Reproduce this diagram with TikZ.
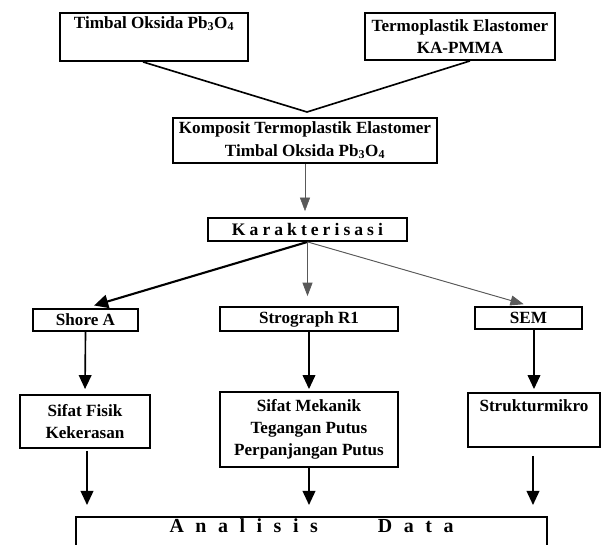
\documentclass[tikz,border=0pt]{standalone}
\usepackage{fontspec}
\setmainfont{Liberation Serif}
\newfontfamily\jarang[LetterSpace=23]{Liberation Serif}
\newfontfamily\lebar[LetterSpace=58]{Liberation Serif}
\usetikzlibrary{arrows.meta}
\begin{document}
\begin{tikzpicture}[x=0.03cm,y=-0.03cm,
  kotak/.style={rectangle,draw,line width=1.6pt,inner sep=1pt,align=center,
    font=\fontsize{14.6}{19}\selectfont\bfseries},
  panah/.style={line width=1.4pt,-{Triangle[width=0.38cm,length=0.42cm]}},
  panahabu/.style={line width=0.6pt,draw=gray!70!black,-{Triangle[width=0.3cm,length=0.4cm]},fill=gray!70!black}]
\useasboundingbox (0,0) rectangle (602,545);
\node at (154,37) [kotak,minimum width=5.64cm,minimum height=1.44cm] (timbal) {Timbal Oksida Pb\textsubscript{3}O\textsubscript{4}\\ \strut};
\node at (460,36.5) [kotak,minimum width=5.7cm,minimum height=1.41cm] (termo) {Termoplastik Elastomer\\KA-PMMA};
\coordinate (v) at (307,112);
\node at (305,140.5) [kotak,minimum width=7.92cm,minimum height=1.35cm] (komposit) {Komposit Termoplastik Elastomer\\Timbal Oksida Pb\textsubscript{3}O\textsubscript{4}};
\node at (307.5,229.5) [kotak,minimum width=5.97cm,minimum height=0.69cm,font=\fontsize{15}{17}\jarang\bfseries] (karakter) {Karakterisasi};
%
\node at (85.5,320) [kotak,minimum width=3.15cm,minimum height=0.66cm] (shore) {Shore A};
\node at (309,319) [kotak,minimum width=5.34cm,minimum height=0.72cm] (strograph) {Strograph R1};
\node at (528.5,318) [kotak,minimum width=3.21cm,minimum height=0.66cm] (sem) {SEM};
%
\node at (85,421.5) [kotak,minimum width=3.9cm,minimum height=1.59cm] (fisik) {Sifat Fisik\\Kekerasan};
\node at (309,429.5) [kotak,minimum width=5.34cm,minimum height=2.25cm] (mekanik) {Sifat Mekanik\\Tegangan Putus\\Perpanjangan Putus};
\node at (534,420) [kotak,minimum width=3.96cm,minimum height=1.62cm] (mikro) {Strukturmikro\\ \strut};
%
\node at (311.5,516) [kotak,anchor=north,minimum width=14.13cm,minimum height=1.4cm,font=\fontsize{17}{19}\lebar\bfseries] (analisis) {Analisis\hspace{1.8cm}Data\\ \strut};
%
%
\draw[line width=1.4pt] ([xshift=-0.33cm]timbal.south) -- (v);
\draw[line width=1.4pt] ([xshift=0.3cm]termo.south) -- (v);
\draw[panahabu,line width=0.4pt,shorten >=0.18cm] (komposit.south) -- (komposit.south |- karakter.north);
%
\draw[line width=1.8pt,-{Triangle[width=0.4cm,length=0.42cm]},shorten >=0.27cm] (karakter.south) -- (shore.north);
\draw[panahabu,shorten >=0.3cm] (karakter.south) -- (karakter.south |- strograph.north);
\draw[panahabu,line width=0.8pt,shorten >=0.2cm] (karakter.south) -- ([xshift=0.05cm]sem.north);
%
\draw[panah,shorten >=0.15cm] (shore.south) -- (fisik.north);
\draw[panah,shorten >=0.06cm] (strograph.south) -- (mekanik.north);
\draw[panah,shorten >=0.09cm] (mikro.north |- sem.south) -- (mikro.north);
%
\draw[panah,shorten <=0.06cm,shorten >=0.33cm] ([xshift=0.06cm]fisik.south) -- ([xshift=0.06cm]fisik.south |- analisis.north);
\draw[panah,shorten >=0.33cm] (mekanik.south) -- (mekanik.south |- analisis.north);
\draw[panah,shorten <=0.24cm,shorten >=0.33cm] ([xshift=-0.03cm]mikro.south) -- ([xshift=-0.03cm]mikro.south |- analisis.north);
\end{tikzpicture}
\end{document}
